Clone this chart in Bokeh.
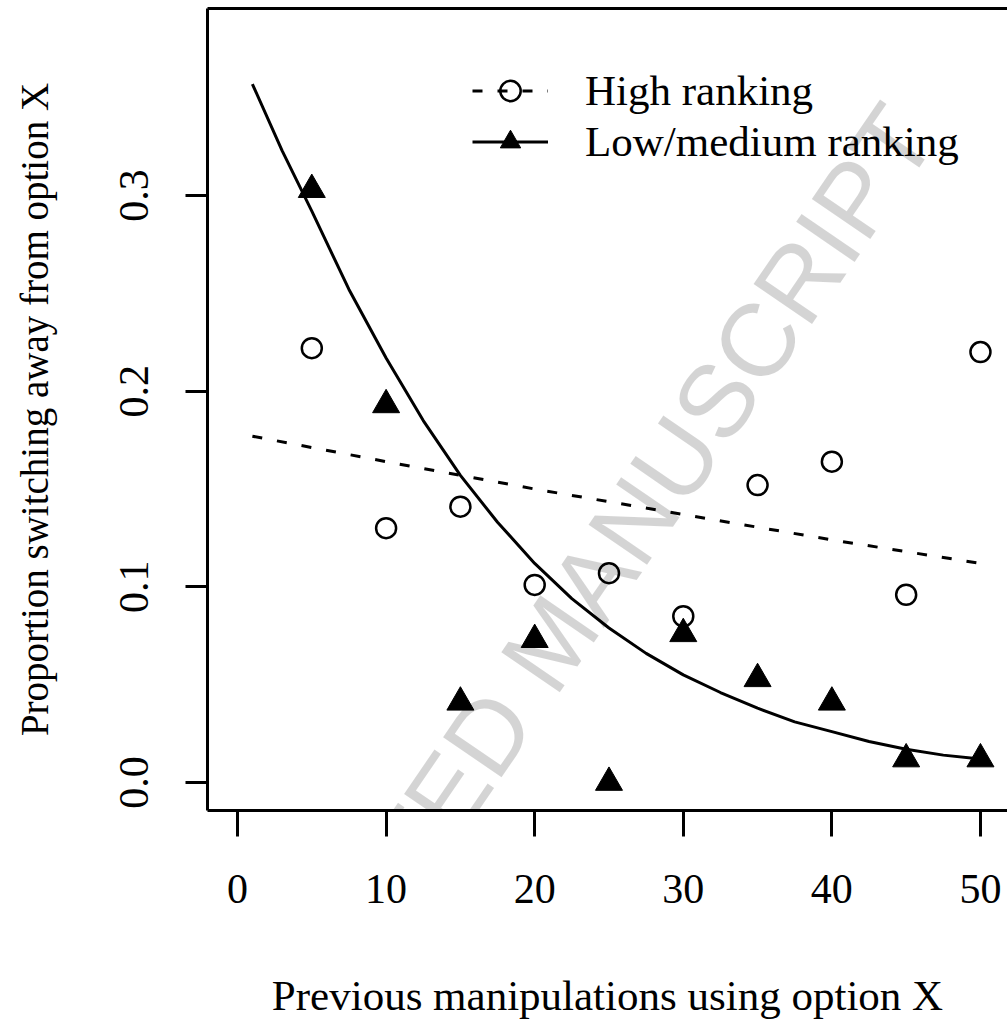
from bokeh.plotting import figure
from bokeh.models import (Range1d, FixedTicker, LinearAxis, Legend, LegendItem,
                          Label, NumeralTickFormatter)
from bokeh.embed import file_html
from bokeh.resources import INLINE

# ---- data ----
manipulations = [5, 10, 15, 20, 25, 30, 35, 40, 45, 50]
high_rank = [0.222, 0.130, 0.141, 0.101, 0.107, 0.085, 0.152, 0.164, 0.096, 0.220]
low_rank = [0.303, 0.193, 0.041, 0.073, 0.0, 0.076, 0.053, 0.041, 0.012, 0.012]

fit_low_x = [1, 3, 5, 7.5, 10, 12.5, 15, 17.5, 20, 22.5, 25, 27.5, 30, 32.5,
             35, 37.5, 40, 42.5, 45, 47.5, 50]
fit_low_y = [0.357, 0.323, 0.292, 0.252, 0.217, 0.185, 0.157, 0.133, 0.112,
             0.094, 0.079, 0.066, 0.055, 0.046, 0.038, 0.031, 0.026, 0.021,
             0.017, 0.014, 0.012]
fit_high_x = [1, 10, 20, 30, 40, 50]
fit_high_y = [0.177, 0.164, 0.150, 0.137, 0.124, 0.112]

x_ticks = [0, 10, 20, 30, 40, 50]
y_ticks = [0.0, 0.1, 0.2, 0.3]

x_title = "Previous manipulations using option X"
y_title = "Proportion switching away from option X"
series_names = ["High ranking", "Low/medium ranking"]
watermark = "ACCEPTED MANUSCRIPT"

FONT = "Liberation Serif"

p = figure(width=1007, height=1023, output_backend="svg", toolbar_location=None,
           x_range=Range1d(-2.02, 51.82), y_range=Range1d(-0.0143, 0.3956),
           x_axis_type=None, y_axis_type=None,
           min_border_left=207, min_border_right=0, min_border_top=8,
           min_border_bottom=213)
p.outline_line_color = None
p.background_fill_color = "white"
p.border_fill_color = "white"

def style_axis(ax):
    ax.axis_line_color = "black"
    ax.axis_line_width = 3
    ax.major_tick_line_color = "black"
    ax.major_tick_line_width = 3
    ax.minor_tick_line_color = None
    ax.major_tick_in = 0
    ax.major_label_text_font = FONT
    ax.major_label_text_font_size = "42px"
    ax.major_label_text_color = "black"
    ax.axis_label_text_font = FONT
    ax.axis_label_text_font_style = "normal"
    ax.axis_label_text_color = "black"

xaxis = LinearAxis(ticker=FixedTicker(ticks=x_ticks), axis_label=x_title)
style_axis(xaxis)
xaxis.major_tick_out = 26
xaxis.major_label_standoff = 38
xaxis.axis_label_text_font_size = "43px"
xaxis.axis_label_standoff = 66
p.add_layout(xaxis, "below")

yaxis = LinearAxis(ticker=FixedTicker(ticks=y_ticks), axis_label=y_title,
                   formatter=NumeralTickFormatter(format="0.0"))
style_axis(yaxis)
yaxis.major_tick_out = 22
yaxis.major_label_orientation = "vertical"
yaxis.major_label_standoff = 37
yaxis.axis_label_text_font_size = "39px"
yaxis.axis_label_standoff = 62
p.add_layout(yaxis, "left")

top = LinearAxis(ticker=FixedTicker(ticks=[]))
top.axis_line_color = "black"
top.axis_line_width = 3
top.major_tick_line_color = None
top.minor_tick_line_color = None
top.major_label_text_font_size = "0px"
p.add_layout(top, "above")

r_hi_line = p.line(fit_high_x, fit_high_y, line_color="black", line_width=3,
                   line_dash="10 15")
r_hi_pts = p.scatter(manipulations, high_rank, marker="circle", size=20,
                     fill_color=None, line_color="black", line_width=2.5)
r_lo_line = p.line(fit_low_x, fit_low_y, line_color="black", line_width=3)
r_lo_pts = p.scatter(manipulations, low_rank, marker="triangle", size=27,
                     fill_color="black", line_color="black", line_width=1)

legend = Legend(items=[LegendItem(label=series_names[0], renderers=[r_hi_line, r_hi_pts]),
                       LegendItem(label=series_names[1], renderers=[r_lo_line, r_lo_pts])],
                location=(265, 643), padding=0, margin=0, spacing=0,
                glyph_width=76, glyph_height=51, label_height=51, label_standoff=37,
                label_text_font=FONT, label_text_font_size="43px",
                label_text_color="black",
                border_line_color=None, background_fill_alpha=0)
p.add_layout(legend)

# watermark: translucent black, so black marks stay black and white turns light grey
wm = Label(x=21.13, y=0.0721, text=watermark, angle=0.970,
           text_align="center", text_baseline="middle",
           text_font="Liberation Sans", text_font_size="103px",
           text_color="black", text_alpha=0.17)
p.add_layout(wm)

open("out.html", "w").write(file_html(p, INLINE))
